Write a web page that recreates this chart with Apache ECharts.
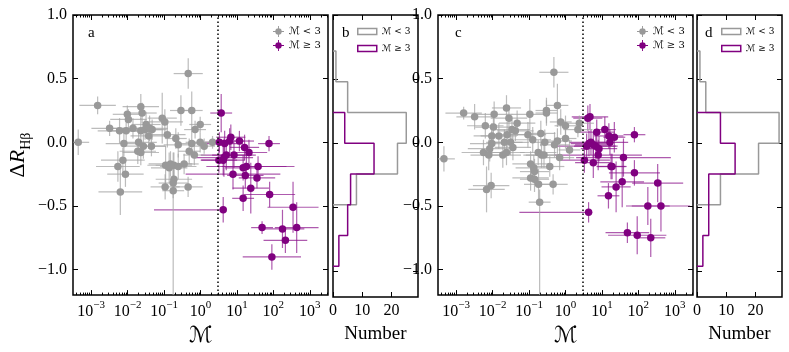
<!DOCTYPE html>
<html>
<head>
<meta charset="utf-8">
<script src="https://cdn.jsdelivr.net/npm/echarts@6/dist/echarts.min.js"></script>
<style>
html, body { margin: 0; padding: 0; background: #fff; }
#main { width: 789px; height: 352px; }
</style>
</head>
<body>
<div id="main"></div>
<script type="text/javascript">
	// panel a : M-dot vs Delta R_Hbeta (errors: dex in x, plain in y; [lo, hi] when one-sided)
	var aGrayM = [0.46, 0.0015, 0.00044, 0.023, 0.025, 0.0098, 0.0105, 0.0032, 0.006, 0.0091, 0.014, 0.023, 0.032, 0.030, 0.040, 0.047, 0.038, 0.020, 0.0079, 0.027, 0.045, 0.019, 0.023, 0.0074, 0.0054, 0.0087, 0.0063, 0.089, 0.105, 0.123, 0.21, 0.245, 0.29, 0.575, 0.98, 0.71, 0.575, 0.98, 1.26, 0.49, 0.676, 2.14, 0.11, 0.15, 0.186, 0.245, 0.355, 0.138, 0.186, 0.178, 0.107, 0.178, 0.457];
	var aGrayR = [0.54, 0.29, 0.00, 0.28, 0.23, 0.22, 0.18, 0.11, 0.09, 0.09, 0.11, 0.09, 0.14, 0.10, 0.11, 0.10, 0.05, 0.00, -0.01, -0.03, -0.03, -0.07, -0.08, -0.14, -0.19, -0.25, -0.39, 0.19, 0.16, 0.06, 0.03, -0.02, 0.25, 0.25, 0.14, 0.10, -0.01, 0.00, -0.03, -0.07, -0.10, 0.00, -0.18, -0.17, -0.18, -0.19, -0.17, -0.20, -0.29, -0.32, -0.35, -0.38, -0.35];
	var aGrayXErr = [0.4, 0.5, 0.3, 0.5, 0.4, 0.4, 0.5, 0.5, 0.6, 0.5, 0.6, 0.4, 0.4, 0.5, 0.5, 0.4, 0.5, 0.5, 0.5, 0.6, 0.4, 0.5, 0.5, 0.6, 0.6, 0.5, 0.6, 0.4, 0.5, 0.5, 0.3, 0.4, 0.3, 0.3, 0.3, 0.3, 0.4, 0.4, 0.3, 0.3, 0.3, 0.5, 0.5, 0.6, 0.5, 0.5, 0.4, 0.5, 0.5, 0.4, 0.4, 0.3, 0.4];
	var aGrayYErr = [0.12, 0.07, 0.1, 0.1, 0.08, 0.07, 0.08, 0.06, 0.1, 0.1, 0.08, 0.1, 0.1, 0.08, 0.1, 0.08, 0.1, 0.08, 0.1, 0.1, 0.08, 0.1, 0.1, 0.1, 0.12, 0.1, 0.18, 0.2, 0.1, 0.1, 0.08, 0.1, 0.12, 0.15, 0.06, 0.07, 0.1, 0.08, 0.06, 0.1, 0.08, 0.05, 0.15, 0.1, 0.1, 0.1, 0.08, 0.12, 0.1, 0.12, 0.1, [0.85, 0.3], 0.08];

	var aPurpM = [3.7, 3.3, 4.6, 6.8, 6.3, 11.7, 76, 16.2, 21.4, 8.3, 5.1, 4.4, 3.2, 4.2, 38, 18.2, 14.8, 7.8, 17, 35.5, 24, 79, 14.8, 4.2, 347, 49, 178, 437, 214, 91];
	var aPurpR = [0.23, 0.00, -0.01, 0.04, 0.01, 0.01, -0.01, -0.04, -0.08, -0.10, -0.10, -0.12, -0.14, -0.14, -0.19, -0.19, -0.20, -0.25, -0.26, -0.28, -0.36, -0.41, -0.44, -0.53, -0.51, -0.67, -0.68, -0.67, -0.77, -0.90];
	var aPurpXErr = [0.3, 0.4, 0.5, 0.4, 0.4, 0.4, 0.3, 0.4, 0.5, 0.6, 0.7, 0.8, 0.5, 0.6, 1.0, 1.1, 0.5, 1.3, 0.5, 0.5, 0.5, 0.7, 0.3, [1.9, 0.0], 0.7, 0.3, 0.6, 0.6, 0.6, 0.8];
	var aPurpYErr = [0.15, 0.08, 0.1, 0.1, 0.1, 0.08, 0.06, 0.1, 0.1, 0.1, 0.12, 0.15, 0.1, 0.12, 0.08, 0.1, 0.1, 0.12, 0.1, 0.08, 0.2, 0.1, 0.1, 0.1, 0.2, 0.05, 0.15, 0.2, 0.1, 0.1];

	// panel c
	var cGrayM = [0.48, 0.0016, 0.0032, 0.011, 0.024, 0.028, 0.0063, 0.0105, 0.047, 0.034, 0.042, 0.025, 0.0095, 0.0148, 0.021, 0.031, 0.0095, 0.0083, 0.0056, 0.0078, 0.019, 0.024, 0.036, 0.00046, 0.0068, 0.0091, 0.105, 0.093, 0.126, 0.21, 0.30, 0.30, 0.60, 0.74, 1.0, 1.0, 0.60, 0.50, 0.27, 1.29, 2.19, 2.4, 0.69, 0.178, 0.22, 0.257, 0.11, 0.135, 0.141, 0.37, 0.11, 0.141, 0.182, 0.457, 0.195];
	var cGrayR = [0.55, 0.23, 0.20, 0.22, 0.27, 0.19, 0.13, 0.12, 0.15, 0.10, 0.09, 0.06, 0.05, 0.05, 0.00, 0.00, -0.01, -0.05, -0.08, -0.10, -0.10, -0.08, -0.04, -0.13, -0.37, -0.34, 0.22, 0.06, 0.02, 0.07, 0.25, 0.23, 0.29, 0.16, 0.13, 0.03, 0.01, -0.02, 0.00, -0.06, 0.10, 0.15, -0.12, -0.08, -0.10, -0.10, -0.17, -0.20, -0.23, -0.19, -0.28, -0.29, -0.33, -0.33, -0.47];
	var cGrayXErr = [0.4, 0.5, 0.5, 0.5, 0.4, 0.5, 0.5, 0.5, 0.5, 0.5, 0.5, 0.5, 0.5, 0.5, 0.5, 0.5, 0.6, 0.6, 0.6, 0.5, 0.5, 0.5, 0.5, 0.3, 0.5, 0.5, 0.5, 0.5, 0.5, 0.4, 0.3, 0.3, 0.3, 0.3, 0.3, 0.3, 0.4, 0.4, 0.4, 0.3, 0.4, 0.4, 0.4, 0.5, 0.5, 0.5, 0.5, 0.5, 0.4, 0.4, 0.5, 0.4, 0.4, 0.4, 0.3];
	var cGrayYErr = [0.12, 0.05, 0.1, 0.1, 0.1, 0.1, 0.1, 0.1, 0.1, 0.08, 0.08, 0.1, 0.1, 0.1, 0.1, 0.1, 0.1, 0.1, 0.1, 0.12, 0.1, 0.1, 0.1, 0.1, 0.18, 0.1, 0.12, 0.1, 0.1, 0.1, 0.1, 0.1, 0.17, 0.1, 0.08, 0.08, 0.1, 0.1, 0.1, 0.08, 0.06, 0.06, 0.1, 0.1, 0.1, 0.1, 0.1, 0.1, 0.1, 0.08, 0.1, 0.1, 0.12, 0.08, [0.8, 0.1]];

	var cPurpM = [4.1, 4.7, 12, 7.2, 15.5, 21.9, 78, 16.6, 5.0, 3.8, 5.8, 6.8, 8.3, 3.3, 5.8, 7.9, 39, 17.8, 19, 78, 36, 24.5, 339, 15.1, 182, 417, 4.3, 50, 93, 219, 4.4];
	var cPurpR = [0.19, 0.20, 0.10, 0.08, 0.05, 0.04, 0.06, 0.00, 0.00, -0.03, -0.02, -0.03, -0.05, -0.14, -0.16, -0.10, -0.12, -0.19, -0.19, -0.24, -0.31, -0.35, -0.32, -0.42, -0.50, -0.50, -0.55, -0.71, -0.73, -0.75, -0.01];
	var cPurpXErr = [0.4, 0.5, 0.3, 0.5, 0.4, 0.3, 0.3, 0.5, 0.6, 0.8, 0.5, 0.6, 0.5, 0.7, 0.5, 1.2, 1.3, 0.4, 0.4, 0.7, 0.6, 0.4, 0.7, 0.3, 0.6, 0.8, [1.9, 0.1], 0.6, 0.8, 0.4, 0.5];
	var cPurpYErr = [0.1, 0.1, 0.1, 0.1, 0.1, 0.12, 0.06, 0.1, 0.1, 0.1, 0.1, 0.1, 0.1, 0.1, 0.12, 0.12, 0.15, 0.1, 0.1, 0.1, 0.2, 0.2, 0.15, 0.1, 0.15, 0.2, 0.08, 0.08, 0.15, 0.15, 0.1];

	// histograms b and d (bins from top to bottom)
	var binEdges = [0.72, 0.48, 0.24, 0.0, -0.24, -0.48, -0.72, -0.96];
	var bGrayN = [1, 5, 25, 22, 8, 0, 0];
	var bPurpN = [0, 0, 4, 14, 6, 5, 2];
	var dGrayN = [1, 3, 28, 21, 8, 0, 0];
	var dPurpN = [0, 0, 8, 13, 4, 4, 2];

	var logTicks = [0.001, 0.01, 0.1, 1, 10, 100, 1000];
	var yTicks = [-1.0, -0.5, 0, 0.5, 1.0];
	var numTicks = [0, 10, 20];
	var mCut = 3;

	var nameLo = 'ℳ̇ < 3', nameHi = 'ℳ̇ ≥ 3';
	var GRAY = '#999999', PURP = '#800080';
	var SERIF = "'Liberation Serif', 'DejaVu Serif', serif";
	var SCRIPT = "'DejaVu Serif', 'DejaVu Sans', serif";

	var xMin = Math.pow(10, -3.5), xMax = Math.pow(10, 3.5);
	var minorTicks = [];
	for (var e = -4; e <= 3; e++) {
		for (var k = 2; k <= 9; k++) {
			var t = k * Math.pow(10, e);
			if (t > xMin && t < xMax) minorTicks.push(t);
		}
	}

	function minus(s) { return String(s).replace('-', '−'); }
	function ext(a, b) { return Object.assign({}, a, b); }

	var tickLine = { color: '#000', width: 1 };
	var noLine = { show: false, onZero: false };
	var xAxes = [], yAxes = [], series = [];

	function scatterAxes(g, withYName) {
		var xi = xAxes.length, yi = yAxes.length;
		var base = { gridIndex: g, type: 'log', logBase: 10, min: xMin, max: xMax,
			axisLine: noLine, splitLine: { show: false }, minorTick: { show: false } };
		xAxes.push(ext(base, {
			position: 'bottom',
			axisTick: { inside: true, length: 5, customValues: logTicks, lineStyle: tickLine },
			axisLabel: {
				customValues: logTicks, margin: 5,
				formatter: function (v) {
					var p = Math.round(Math.log10(v));
					return '{b|10}{s|' + minus(p) + '}';
				},
				rich: {
					b: { fontFamily: SERIF, fontSize: 16, color: '#000', lineHeight: 20, verticalAlign: 'bottom' },
					s: { fontFamily: SERIF, fontSize: 11, color: '#000', lineHeight: 12, verticalAlign: 'top' }
				}
			},
			name: 'ℳ̇', nameLocation: 'middle', nameGap: 24,
			nameTextStyle: { fontFamily: SCRIPT, fontStyle: 'italic', fontSize: 22, color: '#000' }
		}));
		xAxes.push(ext(base, { position: 'bottom', axisLabel: { show: false },
			axisTick: { inside: true, length: 2.5, customValues: minorTicks, lineStyle: tickLine } }));
		xAxes.push(ext(base, { position: 'top', axisLabel: { show: false },
			axisTick: { inside: true, length: 5, customValues: logTicks, lineStyle: tickLine } }));
		xAxes.push(ext(base, { position: 'top', axisLabel: { show: false },
			axisTick: { inside: true, length: 2.5, customValues: minorTicks, lineStyle: tickLine } }));
		yAxes.push(yAxisDef(g, 'left', true, withYName));
		yAxes.push(yAxisDef(g, 'right', false, false));
		return { x: xi, y: yi };
	}

	function yAxisDef(g, pos, labels, withName) {
		var def = {
			gridIndex: g, type: 'value', min: -1.2, max: 1.0, position: pos,
			axisLine: noLine, splitLine: { show: false },
			axisTick: { inside: true, length: 5, customValues: yTicks, lineStyle: tickLine },
			axisLabel: { show: labels, customValues: yTicks, margin: 6, fontFamily: SERIF, fontSize: 16, color: '#000',
				formatter: function (v) { return minus(v.toFixed(1)); } }
		};
		if (withName) {
			def.name = '{d|Δ}{r|R}{s|Hβ}';
			def.nameLocation = 'middle';
			def.nameGap = 44;
			def.nameTextStyle = { rich: {
				d: { fontFamily: SERIF, fontSize: 22, color: '#000', lineHeight: 26, verticalAlign: 'bottom' },
				r: { fontFamily: SERIF, fontStyle: 'italic', fontSize: 22, color: '#000', lineHeight: 26, verticalAlign: 'bottom' },
				s: { fontFamily: SERIF, fontSize: 14, color: '#000', lineHeight: 14, verticalAlign: 'bottom', padding: [0, 0, -4, 0] }
			} };
		}
		return def;
	}

	function histAxes(g) {
		var xi = xAxes.length, yi = yAxes.length;
		var base = { gridIndex: g, type: 'value', min: 0, max: 29, axisLine: noLine, splitLine: { show: false } };
		xAxes.push(ext(base, {
			position: 'bottom',
			axisTick: { inside: true, length: 5, customValues: numTicks, lineStyle: tickLine },
			axisLabel: { customValues: numTicks, margin: 6, fontFamily: SERIF, fontSize: 16, color: '#000' },
			name: 'Number', nameLocation: 'middle', nameGap: 28,
			nameTextStyle: { fontFamily: SERIF, fontSize: 19, color: '#000' }
		}));
		xAxes.push(ext(base, { position: 'top', axisLabel: { show: false },
			axisTick: { inside: true, length: 5, customValues: numTicks, lineStyle: tickLine } }));
		yAxes.push(yAxisDef(g, 'left', false, false));
		yAxes.push(yAxisDef(g, 'right', false, false));
		return { x: xi, y: yi };
	}

	// [M, dR, Mlo, Mhi, dRlo, dRhi]
	function errItems(m, r, xe, ye) {
		return m.map(function (v, i) {
			var ex = Array.isArray(xe[i]) ? xe[i] : [xe[i], xe[i]];
			var ey = Array.isArray(ye[i]) ? ye[i] : [ye[i], ye[i]];
			return [v, r[i], v / Math.pow(10, ex[0]), v * Math.pow(10, ex[1]), r[i] - ey[0], r[i] + ey[1]];
		});
	}

	function errSeries(ax, m, r, xe, ye, color) {
		return {
			type: 'custom', name: 'err', xAxisIndex: ax.x, yAxisIndex: ax.y, clip: true, silent: true,
			encode: { x: [0, 2, 3], y: [1, 4, 5] },
			data: errItems(m, r, xe, ye),
			renderItem: function (params, api) {
				var c = api.coord([api.value(0), api.value(1)]);
				var l = api.coord([api.value(2), api.value(1)]);
				var h = api.coord([api.value(3), api.value(1)]);
				var lo = api.coord([api.value(0), api.value(4)]);
				var hi = api.coord([api.value(0), api.value(5)]);
				var st = { stroke: color, lineWidth: 1.2 };
				return { type: 'group', children: [
					{ type: 'line', shape: { x1: l[0], y1: c[1], x2: h[0], y2: c[1] }, style: st },
					{ type: 'line', shape: { x1: c[0], y1: lo[1], x2: c[0], y2: hi[1] }, style: st }
				] };
			}
		};
	}

	function dotSeries(ax, name, m, r, color, cutLine) {
		var s = {
			type: 'scatter', name: name, xAxisIndex: ax.x, yAxisIndex: ax.y, symbolSize: 7.5,
			itemStyle: { color: color, opacity: 1 },
			data: m.map(function (v, i) { return [v, r[i]]; })
		};
		if (cutLine) {
			s.markLine = { silent: true, symbol: 'none', label: { show: false },
				lineStyle: { color: '#000', width: 1.5, type: [1.5, 2.5] },
				data: [{ xAxis: mCut }] };
		}
		return s;
	}

	function stepSeries(ax, name, counts, color) {
		var first = 0, last = counts.length - 1;
		while (counts[first] === 0) first++;
		while (counts[last] === 0) last--;
		var pts = [[0, binEdges[first]]];
		for (var i = first; i <= last; i++) {
			pts.push([counts[i], binEdges[i]]);
			pts.push([counts[i], binEdges[i + 1]]);
		}
		pts.push([0, binEdges[last + 1]]);
		return { type: 'line', name: name, xAxisIndex: ax.x, yAxisIndex: ax.y, showSymbol: false, silent: true,
			lineStyle: { color: color, width: 1.5 }, itemStyle: { color: color }, data: pts };
	}

	var axA = scatterAxes(0, true);
	var axB = histAxes(1);
	var axC = scatterAxes(2, false);
	var axD = histAxes(3);

	series.push(dotSeries(axA, nameLo, aGrayM, aGrayR, GRAY, true));
	series.push(dotSeries(axA, nameHi, aPurpM, aPurpR, PURP, false));
	series.push(dotSeries(axC, nameLo, cGrayM, cGrayR, GRAY, true));
	series.push(dotSeries(axC, nameHi, cPurpM, cPurpR, PURP, false));
	series.unshift(errSeries(axA, aGrayM, aGrayR, aGrayXErr, aGrayYErr, 'rgba(165,165,165,0.75)'));
	series.unshift(errSeries(axA, aPurpM, aPurpR, aPurpXErr, aPurpYErr, 'rgba(140,20,140,0.7)'));
	series.unshift(errSeries(axC, cGrayM, cGrayR, cGrayXErr, cGrayYErr, 'rgba(165,165,165,0.75)'));
	series.unshift(errSeries(axC, cPurpM, cPurpR, cPurpXErr, cPurpYErr, 'rgba(140,20,140,0.7)'));
	series.push(stepSeries(axB, nameLo, bGrayN, GRAY));
	series.push(stepSeries(axB, nameHi, bPurpN, PURP));
	series.push(stepSeries(axD, nameLo, dGrayN, GRAY));
	series.push(stepSeries(axD, nameHi, dPurpN, PURP));

	var gridBox = { show: true, borderColor: '#000', borderWidth: 1.5, backgroundColor: 'transparent' };
	var dotIcon = 'path://M0,5.5H12V6.5H0Z M5.5,0H6.5V12H5.5Z M6,2.5A3.5,3.5 0 1,1 5.99,2.5Z';

	function scatterLegend(left) {
		return { left: left, top: 21, orient: 'vertical', itemWidth: 11, itemHeight: 11, itemGap: 3,
			textStyle: { fontFamily: SCRIPT, fontSize: 10, color: '#000' },
			data: [{ name: nameLo, icon: dotIcon }, { name: nameHi, icon: dotIcon }] };
	}
	function histLegend(left) {
		return { left: left, top: 22, orient: 'vertical', itemWidth: 19, itemHeight: 6, itemGap: 8,
			textStyle: { fontFamily: SCRIPT, fontSize: 9, color: '#000' },
			data: [
				{ name: nameLo, icon: 'rect', itemStyle: { color: 'rgba(0,0,0,0)', borderColor: GRAY, borderWidth: 1.5 } },
				{ name: nameHi, icon: 'rect', itemStyle: { color: 'rgba(0,0,0,0)', borderColor: PURP, borderWidth: 1.5 } }
			] };
	}

	function letter(t, left) {
		return { text: t, left: left, top: 21, textStyle: { fontFamily: SERIF, fontSize: 15, fontWeight: 'normal', color: '#000' } };
	}

	var myChart = echarts.init(document.getElementById('main'));
	myChart.setOption({
		animation: false,
		title: [letter('a', 83), letter('b', 337), letter('c', 450), letter('d', 700)],
		legend: [scatterLegend(268), histLegend(352), scatterLegend(632), histLegend(716)],
		grid: [
			ext({ left: 73, top: 15, width: 255, height: 282 }, gridBox),
			ext({ left: 333, top: 15, width: 85, height: 282 }, gridBox),
			ext({ left: 438, top: 15, width: 255, height: 282 }, gridBox),
			ext({ left: 697, top: 15, width: 85, height: 282 }, gridBox)
		],
		xAxis: xAxes,
		yAxis: yAxes,
		series: series
	});
</script>
</body>
</html>
